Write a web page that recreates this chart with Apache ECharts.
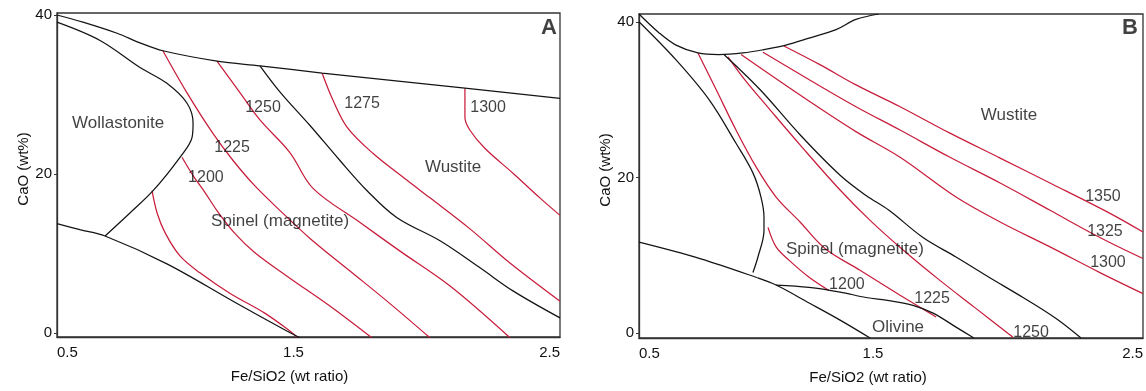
<!DOCTYPE html>
<html>
<head>
<meta charset="utf-8">
<script src="https://cdn.jsdelivr.net/npm/echarts@6/dist/echarts.min.js"></script>
<style>
  html, body { margin: 0; padding: 0; background: #fff; }
  #chart { width: 1146px; height: 391px; }
</style>
</head>
<body>
<div id="chart"></div>
<script>
// Axis ticks and titles (shared by both panels)
const xTicks = [0.5, 1.5, 2.5];
const yTicks = [0, 20, 40];
const xTitle = 'Fe/SiO2 (wt ratio)';
const yTitle = 'CaO (wt%)';

// ---------- Panel A: phase boundaries ----------
const aUpperBoundary = [[0.5, 40.0], [0.603, 39.1], [0.739, 37.7], [0.830, 36.5], [0.921, 35.5], [1.136, 34.2], [1.307, 33.6], [1.554, 32.7], [2.122, 30.8], [2.5, 29.5]];
const aWollastoniteBoundary = [[0.5, 39.1], [0.671, 36.8], [0.830, 33.4], [0.937, 31.4], [1.017, 28.9], [1.041, 26.4], [1.037, 24.6], [0.989, 22.1], [0.882, 17.9], [0.790, 15.1], [0.691, 12.2]];
const aLowerBoundary = [[0.5, 13.75], [0.591, 13.0], [0.691, 12.2], [0.937, 8.7], [1.2, 4.0], [1.414, 0.25], [1.466, -0.6]];
const aWustiteBoundary = [[1.307, 33.6], [1.387, 30.3], [1.506, 26.1], [1.625, 21.7], [1.733, 17.9], [1.852, 14.5], [2.023, 11.6], [2.182, 8.2], [2.313, 5.3], [2.5, 1.9]];

// ---------- Panel A: isotherms (°C) ----------
const aIsoLowest = [[0.878, 17.9], [0.898, 15.1], [0.930, 12.6], [0.989, 9.7], [1.067, 7.6], [1.187, 5.0], [1.326, 2.5], [1.426, 0.25], [1.454, -0.5]];
const aIso1200 = [[0.997, 22.1], [1.041, 19.8], [1.088, 17.7], [1.136, 15.4], [1.208, 12.5], [1.287, 10.1], [1.426, 6.9], [1.585, 3.4], [1.752, -0.6]];
const aIso1225 = [[0.921, 35.5], [1.017, 30.2], [1.120, 25.1], [1.200, 21.7], [1.287, 18.5], [1.387, 15.4], [1.506, 11.9], [1.665, 7.8], [1.824, 3.7], [1.983, -0.6]];
const aIso1250 = [[1.136, 34.2], [1.228, 30.2], [1.307, 26.8], [1.426, 22.7], [1.518, 18.2], [1.705, 13.9], [1.864, 10.3], [2.063, 5.9], [2.301, -0.6]];
const aIso1275 = [[1.554, 32.7], [1.597, 29.3], [1.653, 25.9], [1.756, 22.6], [1.892, 19.2], [1.983, 17.0], [2.142, 13.1], [2.301, 8.8], [2.5, 4.0]];
const aIso1300 = [[2.122, 30.8], [2.122, 27.1], [2.142, 25.5], [2.202, 23.2], [2.313, 20.1], [2.420, 17.0], [2.5, 14.8]];

// ---------- Panel B: phase boundaries ----------
const bUpperBoundary = [[0.5, 41.0], [0.579, 38.6], [0.647, 37.0], [0.734, 36.0], [0.817, 35.8], [0.913, 36.0], [0.992, 36.4], [1.083, 37.0], [1.175, 37.9], [1.282, 39.0], [1.361, 40.3], [1.452, 41.0]];
const bSpinelBoundary = [[0.5, 40.0], [0.647, 35.1], [0.778, 30.0], [0.885, 24.4], [0.952, 20.6], [0.984, 17.5], [0.996, 14.9], [0.996, 13.2], [0.972, 9.8], [0.952, 7.8]];
const bLowerBoundary = [[0.5, 11.7], [0.742, 9.6], [0.964, 7.2], [1.044, 6.2], [1.175, 3.9], [1.298, 1.7], [1.417, -0.6]];
const bOlivineBoundary = [[1.044, 6.2], [1.175, 5.9], [1.298, 5.3], [1.401, 4.6], [1.492, 4.2], [1.587, 3.6], [1.667, 2.6], [1.758, 0.8], [1.829, -0.6]];
const bWustiteBoundary = [[0.837, 35.8], [0.980, 31.3], [1.139, 25.5], [1.298, 20.3], [1.401, 17.7], [1.492, 15.8], [1.627, 12.3], [1.758, 9.8], [1.889, 7.2], [2.024, 4.6], [2.155, 1.9], [2.254, -0.6]];

// ---------- Panel B: isotherms (°C) ----------
const bIso1200 = [[1.012, 13.6], [1.044, 11.1], [1.095, 9.4], [1.175, 7.2], [1.254, 5.5]];
const bIso1225 = [[0.734, 36.0], [0.806, 31.3], [0.885, 26.1], [0.964, 21.4], [1.044, 17.5], [1.139, 14.3], [1.238, 10.9], [1.377, 8.1], [1.536, 4.9], [1.679, 2.1]];
const bIso1250 = [[0.853, 35.5], [0.921, 32.5], [1.020, 28.7], [1.139, 24.2], [1.298, 18.4], [1.417, 14.5], [1.548, 10.7], [1.694, 6.8], [1.833, 3.3], [1.984, -0.5]];
const bIso1300 = [[0.905, 35.8], [1.139, 30.6], [1.361, 25.9], [1.536, 22.6], [1.758, 17.5], [1.933, 14.3], [2.131, 11.1], [2.329, 7.8], [2.5, 5.1]];
const bIso1325 = [[0.992, 36.1], [1.179, 32.5], [1.361, 29.1], [1.536, 26.1], [1.734, 22.6], [1.933, 19.3], [2.131, 15.8], [2.329, 12.3], [2.5, 9.6]];
const bIso1350 = [[1.075, 36.9], [1.218, 34.5], [1.361, 31.9], [1.536, 29.1], [1.734, 25.7], [1.933, 22.5], [2.131, 19.3], [2.369, 15.4], [2.5, 13.0]];

// ---------- Text annotations: [text, x, y] ----------
const aRegionLabels = [['Wollastonite', 0.743, 26.4], ['Spinel (magnetite)', 1.387, 14.1], ['Wustite', 2.075, 20.8]];
const aIsoLabels = [['1200', 1.092, 19.6], ['1225', 1.196, 23.3], ['1250', 1.319, 28.3], ['1275', 1.713, 28.9], ['1300', 2.214, 28.3]];
const bRegionLabels = [['Wustite', 1.968, 28.0], ['Spinel (magnetite)', 1.357, 10.8], ['Olivine', 1.528, 0.8]];
const bIsoLabels = [['1200', 1.325, 6.2], ['1225', 1.663, 4.4], ['1250', 2.056, 0.1], ['1300', 2.361, 9.1], ['1325', 2.349, 13.0], ['1350', 2.341, 17.6]];
const panelLetters = [['A', 2.456, 38.4], ['B', 2.448, 39.2]];

const BLACK = '#141414';
const RED = '#c81e3c';
const TEXT = '#111111';
const FONT = '"Liberation Sans", Arial, sans-serif';

function curve(data, panel, color) {
  return {
    type: 'line', xAxisIndex: panel, yAxisIndex: panel, data,
    smooth: 0.35, symbol: 'none', showSymbol: false, silent: true, clip: true,
    lineStyle: { color, width: 1.25 }, z: color === RED ? 3 : 4
  };
}

function texts(items, panel, size, weight) {
  return {
    type: 'scatter', xAxisIndex: panel, yAxisIndex: panel, symbolSize: 0, silent: true, z: 6,
    data: items.map(([t, x, y]) => ({ value: [x, y], name: t })),
    label: {
      show: true, position: 'inside', formatter: p => p.name,
      color: TEXT, fontSize: size, fontWeight: weight, fontFamily: FONT
    }
  };
}

function xAxisFor(panel, midShift, titleShift) {
  return {
    type: 'value', gridIndex: panel, min: 0.5, max: 2.5,
    name: xTitle, nameLocation: 'middle', nameGap: 32,
    nameTextStyle: { color: TEXT, fontSize: 15, fontFamily: FONT, padding: [0, titleShift * 2, 0, 0] },
    axisLine: { show: true, onZero: false, lineStyle: { color: '#333', width: 1.3 } },
    axisTick: { show: false },
    splitLine: { show: false },
    axisLabel: {
      customValues: xTicks, margin: 8, color: TEXT, fontSize: 15, fontFamily: FONT,
      alignMinLabel: 'left', alignMaxLabel: 'right',
      formatter: v => (v > xTicks[0] && v < xTicks[xTicks.length - 1]) ? '{m|' + v + '}' : String(v),
      rich: { m: { fontSize: 15, fontFamily: FONT, color: TEXT, padding: [0, midShift * 2, 0, 0] } }
    }
  };
}

// The title is rotated 90°, so left padding in its own frame lifts it on screen
function yAxisFor(panel, min, max, titleLift, gap) {
  return {
    type: 'value', gridIndex: panel, min, max,
    name: yTitle, nameLocation: 'middle', nameGap: gap, nameRotate: 90,
    nameTextStyle: { color: TEXT, fontSize: 15, fontFamily: FONT, padding: [0, 0, 0, titleLift * 2] },
    axisLine: { show: true, onZero: false, lineStyle: { color: '#333', width: 1.3 } },
    axisTick: { show: true, customValues: yTicks, length: 3, lineStyle: { color: '#333' } },
    splitLine: { show: false },
    axisLabel: { customValues: yTicks, margin: 5, color: TEXT, fontSize: 15, fontFamily: FONT }
  };
}

const chart = echarts.init(document.getElementById('chart'), null, { renderer: 'canvas' });

chart.setOption({
  animation: false,
  backgroundColor: '#fff',
  grid: [
    { left: 57, top: 13, width: 503, height: 324, show: true, borderColor: '#333', borderWidth: 1.3, containLabel: false },
    { left: 639, top: 14, width: 504, height: 324, show: true, borderColor: '#333', borderWidth: 1.3, containLabel: false }
  ],
  xAxis: [xAxisFor(0, 15, 19), xAxisFor(1, 18, 23)],
  yAxis: [yAxisFor(0, -0.5, 40.25, 6, 24), yAxisFor(1, -0.6, 41.0, 6, 24)],
  series: [
    curve(aUpperBoundary, 0, BLACK),
    curve(aWollastoniteBoundary, 0, BLACK),
    curve(aLowerBoundary, 0, BLACK),
    curve(aWustiteBoundary, 0, BLACK),
    curve(aIsoLowest, 0, RED),
    curve(aIso1200, 0, RED),
    curve(aIso1225, 0, RED),
    curve(aIso1250, 0, RED),
    curve(aIso1275, 0, RED),
    curve(aIso1300, 0, RED),
    curve(bUpperBoundary, 1, BLACK),
    curve(bSpinelBoundary, 1, BLACK),
    curve(bLowerBoundary, 1, BLACK),
    curve(bOlivineBoundary, 1, BLACK),
    curve(bWustiteBoundary, 1, BLACK),
    curve(bIso1200, 1, RED),
    curve(bIso1225, 1, RED),
    curve(bIso1250, 1, RED),
    curve(bIso1300, 1, RED),
    curve(bIso1325, 1, RED),
    curve(bIso1350, 1, RED),
    texts(aRegionLabels, 0, 17, 'normal'),
    texts(aIsoLabels, 0, 16, 'normal'),
    texts(bRegionLabels, 1, 17, 'normal'),
    texts(bIsoLabels, 1, 16, 'normal'),
    texts([panelLetters[0]], 0, 22, 'bold'),
    texts([panelLetters[1]], 1, 22, 'bold')
  ]
});
</script>
</body>
</html>
